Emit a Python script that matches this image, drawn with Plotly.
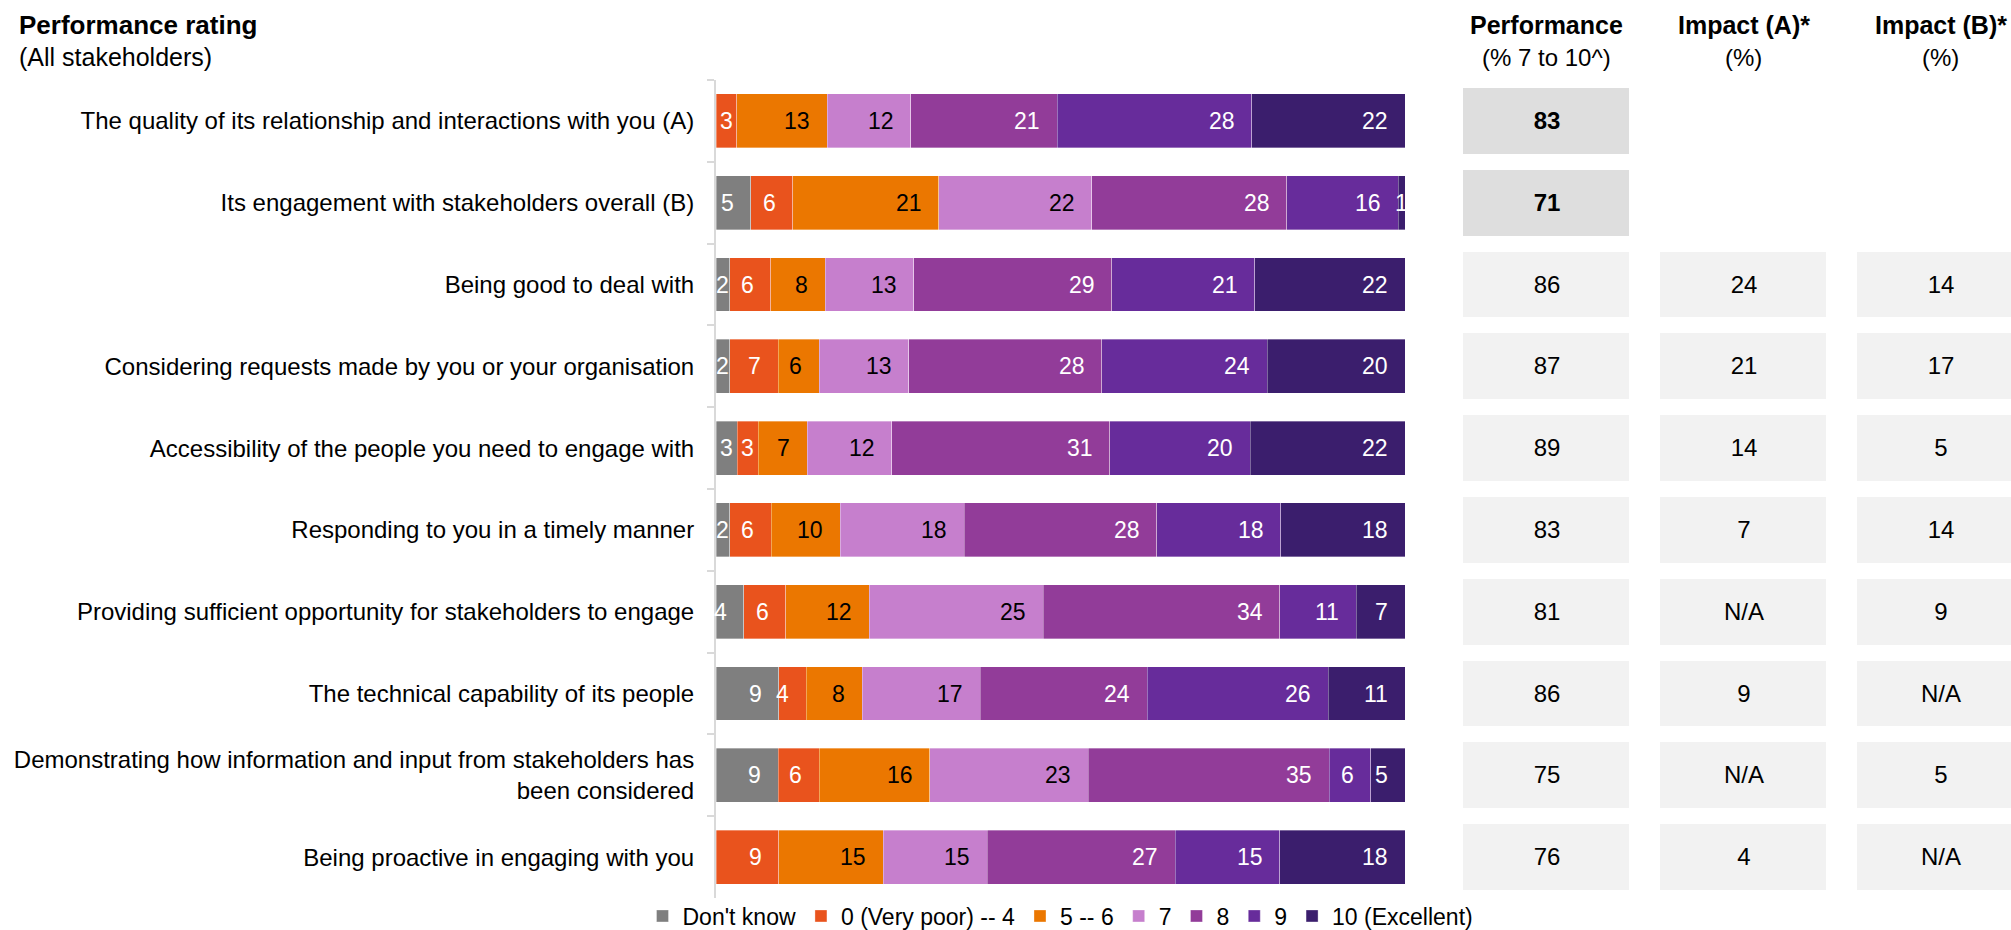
import plotly.graph_objects as go

# ---------------- data ----------------
categories = [
    "The quality of its relationship and interactions with you (A)",
    "Its engagement with stakeholders overall (B)",
    "Being good to deal with",
    "Considering requests made by you or your organisation",
    "Accessibility of the people you need to engage with",
    "Responding to you in a timely manner",
    "Providing sufficient opportunity for stakeholders to engage",
    "The technical capability of its people",
    "Demonstrating how information and input from stakeholders has<br>been considered",
    "Being proactive in engaging with you",
]
series_names = ["Don't know", "0 (Very poor) -- 4", "5 -- 6", "7", "8", "9", "10 (Excellent)"]
dont_know = [0, 5, 2, 2, 3, 2, 4, 9, 9, 0]
rating_0_4 = [3, 6, 6, 7, 3, 6, 6, 4, 6, 9]
rating_5_6 = [13, 21, 8, 6, 7, 10, 12, 8, 16, 15]
rating_7 = [12, 22, 13, 13, 12, 18, 25, 17, 23, 15]
rating_8 = [21, 28, 29, 28, 31, 28, 34, 24, 35, 27]
rating_9 = [28, 16, 21, 24, 20, 18, 11, 26, 6, 15]
rating_10 = [22, 1, 22, 20, 22, 18, 7, 11, 5, 18]

performance = [83, 71, 86, 87, 89, 83, 81, 86, 75, 76]
impact_a = [None, None, 24, 21, 14, 7, "N/A", 9, "N/A", 4]
impact_b = [None, None, 14, 17, 5, 14, 9, "N/A", 5, "N/A"]
highlight_rows = [True, True, False, False, False, False, False, False, False, False]

table_headers = ["Performance", "Impact (A)*", "Impact (B)*"]
table_subheaders = ["(% 7 to 10^)", "(%)", "(%)"]
title_text = "Performance rating"
subtitle_text = "(All stakeholders)"

# ---------------- style ----------------
FONT = "Liberation Sans, Arial, Helvetica, sans-serif"
W, H = 2011, 930
PLOT_TOP, PLOT_BOTTOM = 80, 898
BAR_X0, BAR_X1 = 716, 1405
TABLE_X0, COL_PITCH = 1448, 197
colors = ["#7F7F7F", "#E9531D", "#EB7700", "#C67FCD", "#923C99", "#672C9B", "#3B1E6D"]
label_colors = ["white", "white", "black", "black", "white", "white", "white"]
LABEL_SIZE = 23
PAD_PX = 16

series = [dont_know, rating_0_4, rating_5_6, rating_7, rating_8, rating_9, rating_10]

fig = go.Figure()
for name, vals, col in zip(series_names, series, colors):
    fig.add_trace(go.Bar(
        orientation="h", y=categories, x=vals, name=name,
        marker=dict(color=col, line=dict(width=0.75, color="rgba(255,255,255,0.45)")),
        hoverinfo="skip", xaxis="x", yaxis="y",
    ))

# data labels placed through the data axis (inside end, centred if too small)
px_per_unit = (BAR_X1 - BAR_X0) / 100.0
annotations = []
for i, cat in enumerate(categories):
    total = sum(s[i] for s in series)
    cum = 0
    for j, s in enumerate(series):
        v = s[i]
        if v > 0:
            start = cum / total * 100
            end = (cum + v) / total * 100
            seg_px = (end - start) * px_per_unit
            lab_w = len(str(v)) * 0.556 * LABEL_SIZE
            if seg_px - PAD_PX >= lab_w - 2.5:
                x, xa = end - PAD_PX / px_per_unit, "right"
            else:
                x, xa = (start + end) / 2, "center"
            annotations.append(dict(
                x=x, y=cat, xref="x", yref="y", xanchor=xa, yanchor="middle",
                text=str(v), showarrow=False, borderpad=0,
                font=dict(size=LABEL_SIZE, color=label_colors[j], family=FONT)))
        cum += v

# right-hand table as a heatmap with gaps
cols = [performance, impact_a, impact_b]
z, txt = [], []
for i in range(len(categories)):
    zr, tr = [], []
    for c, col in enumerate(cols):
        v = col[i]
        if v is None:
            zr.append(None); tr.append("")
        else:
            zr.append(1 if (c == 0 and highlight_rows[i]) else 0)
            tr.append(f"<b>{v}</b>" if (c == 0 and highlight_rows[i]) else str(v))
    z.append(zr); txt.append(tr)

fig.add_trace(go.Heatmap(
    x=list(range(len(table_headers))), y=categories, z=z, text=txt,
    texttemplate="%{text}", textfont=dict(size=24, color="black", family=FONT),
    colorscale=[[0, "#F2F2F2"], [1, "#DEDEDE"]], zmin=0, zmax=1,
    showscale=False, xgap=31, ygap=16, hoverinfo="skip", showlegend=False,
    xaxis="x2", yaxis="y",
))

plot_h = PLOT_BOTTOM - PLOT_TOP
def py(ypx):
    return (PLOT_BOTTOM - ypx) / plot_h

annotations.append(dict(x=17 / W, y=py(25), xref="paper", yref="paper", xanchor="left", yanchor="middle",
                        text=f"<b>{title_text}</b>", showarrow=False, font=dict(size=26, color="black", family=FONT)))
annotations.append(dict(x=17 / W, y=py(57), xref="paper", yref="paper", xanchor="left", yanchor="middle",
                        text=subtitle_text, showarrow=False, font=dict(size=25, color="black", family=FONT)))
for k, (h1, h2) in enumerate(zip(table_headers, table_subheaders)):
    annotations.append(dict(x=k, y=py(25), xref="x2", yref="paper", xanchor="center", yanchor="middle",
                            text=f"<b>{h1}</b>", showarrow=False, font=dict(size=25, color="black", family=FONT)))
    annotations.append(dict(x=k, y=py(57), xref="x2", yref="paper", xanchor="center", yanchor="middle",
                            text=h2, showarrow=False, font=dict(size=24, color="black", family=FONT)))

fig.update_layout(
    width=W, height=H,
    margin=dict(l=0, r=0, t=PLOT_TOP, b=H - PLOT_BOTTOM, autoexpand=False),
    paper_bgcolor="white", plot_bgcolor="white",
    barmode="stack", barnorm="percent", bargap=0.34,
    font=dict(family=FONT, color="black"),
    xaxis=dict(domain=[BAR_X0 / W, BAR_X1 / W], range=[0, 100], visible=False, fixedrange=True),
    xaxis2=dict(domain=[TABLE_X0 / W, 1.0], anchor="y",
                range=[-0.5, (W - TABLE_X0) / COL_PITCH - 0.5], visible=False, fixedrange=True),
    yaxis=dict(type="category", categoryorder="array", categoryarray=categories,
               autorange="reversed", showline=True, linecolor="#D9D9D9", linewidth=2,
               ticks="outside", tickson="boundaries", ticklen=7, tickwidth=2, tickcolor="#D9D9D9",
               tickfont=dict(size=24, color="black", family=FONT), ticklabelstandoff=15,
               showgrid=False, zeroline=False, fixedrange=True, anchor="x"),
    legend=dict(orientation="h", x=(BAR_X0 + BAR_X1) / 2 / W, xanchor="center",
                y=py(916), yanchor="middle", font=dict(size=23, color="black", family=FONT),
                traceorder="normal", itemwidth=30, bgcolor="rgba(0,0,0,0)",
                tracegroupgap=0, itemclick=False, itemdoubleclick=False),
    annotations=annotations,
    showlegend=True,
)

fig.write_html("out.html", config={"displayModeBar": False})
